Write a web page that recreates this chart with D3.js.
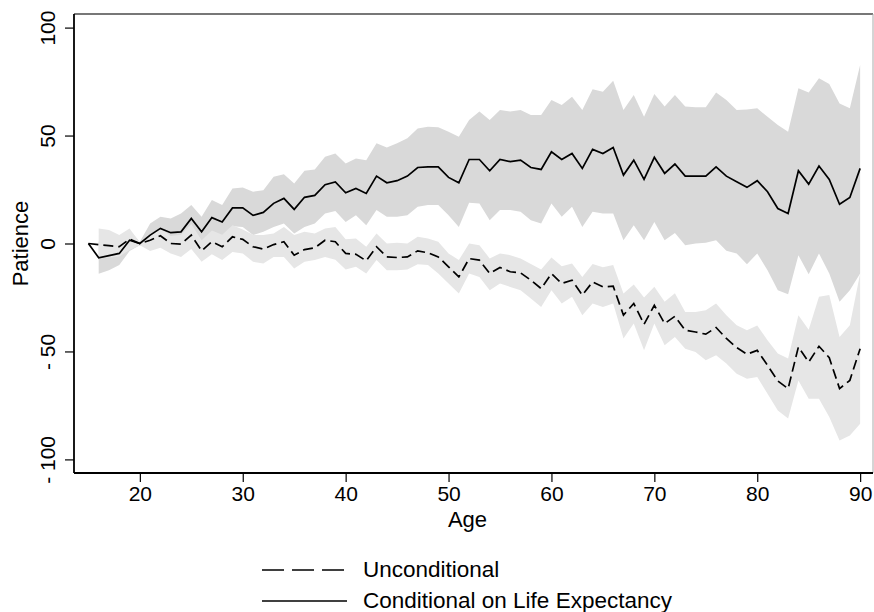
<!DOCTYPE html>
<html>
<head>
<meta charset="utf-8">
<script src="https://cdn.jsdelivr.net/npm/d3@7"></script>
<style>
	body { margin: 0; background: #fff; }
	svg text { font-family: "Liberation Sans", Arial, Helvetica, sans-serif; fill: #000; }
</style>
</head>
<body>
<div id="svg-container"></div>
<script>
// DATA
const ages = d3.range(15, 91);

// unconditional estimate (dashed) and its band
const uncond = [0, -0.5, -1, -1.5, 2, 0, 1.5, 3.6, 0, -0.3,
	3.9, -3.4, 0.8, -1.5, 3.1, 1.9, -1.5, -2.6, -0.5, 0.8,
	-5.4, -2.8, -2, 1.5, 0.8, -4.6, -5, -8, -1.5, -6.2,
	-6.5, -6.2, -3.4, -4.3, -6.2, -10.8, -15.5, -7, -7.7, -13.9,
	-11.1, -13.1, -13.6, -17, -20.9, -13.9, -18.5, -17, -23.9, -17.8,
	-20.1, -19.8, -33.2, -27.8, -37.4, -28.6, -37.1, -33.7, -40.2, -41,
	-42, -38.9, -44, -48.2, -51.3, -49.5, -56.4, -63.7, -67.2, -47.9,
	-54.9, -47.6, -52.9, -67.2, -63.4, -48.7];
const uncondLo = [null, -7, -6.5, -6, -3, -0.8, -3.5, -2, -4.6, -6.2,
	-2.5, -8.5, -5, -7.7, -3.9, -4.6, -8.5, -9.3, -6.2, -6.2,
	-11.6, -8.5, -7.7, -6.2, -7.5, -12, -10.8, -13.9, -7.7, -12.4,
	-12.4, -12, -9.6, -10, -13.9, -18.5, -23.2, -13.9, -15.5, -21.6,
	-18.5, -20.1, -21.6, -25.5, -29.4, -21.6, -27.8, -24.7, -33.2, -27.8,
	-29.4, -27.8, -44, -37.1, -49.5, -37.1, -47.1, -43.3, -48.7, -50.2,
	-54.1, -51.8, -55.6, -60.3, -62.6, -61.8, -69.6, -77.3, -81.1, -63.4,
	-71.9, -71.9, -80.4, -91.2, -88.9, -83.5];
const uncondHi = [null, 7, 6.2, 3.9, 7, 0.5, 4.5, 7, 3.5, 4,
	9, 1.5, 6, 4, 8.5, 6.5, 4, 3.9, 4.6, 7.7,
	3.9, 5.4, 4.6, 7, 7.7, 2, 2.3, -1.5, 4.6, 0,
	0.3, 0, 3.1, 2.3, 0.8, -4.6, -7.7, 0, -0.8, -6.9,
	-4.6, -5.4, -6.9, -9.5, -12, -6.5, -10.5, -9.3, -15.5, -9.5,
	-11, -10, -23.2, -19, -25, -20, -27, -23, -31.7, -31.7,
	-30.9, -27.8, -33.2, -37.9, -40.2, -38, -44.8, -51, -53.3, -33.2,
	-40, -24.7, -23.9, -43.3, -37.9, -13.9];

// conditional on life expectancy (solid) and its band
const cond = [0, -6.6, -5.6, -4.6, 1.5, 0, 3.9, 7, 5, 5.4,
	11.6, 5.4, 12, 10, 16.5, 16.5, 13, 14.4, 18.6, 20.9,
	15.8, 21.4, 22.3, 27.2, 28.5, 23.5, 25.5, 23.2, 31.2, 28.1,
	29.1, 31.2, 35.2, 35.5, 35.5, 30.6, 28.1, 38.9, 38.9, 33.7,
	38.9, 37.9, 38.6, 35.2, 34.3, 42.5, 38.9, 41.7, 34.8, 43.6,
	41.7, 44.5, 31.7, 38.6, 29.7, 39.9, 32.5, 36.8, 31.2, 31.2,
	31.2, 35.5, 31.2, 28.6, 26, 29.1, 24, 16.2, 13.9, 33.7,
	27.5, 35.9, 29.7, 18.2, 21.3, 34.8];
const condLo = [null, -14, -12.4, -10, -3.5, -0.8, -1.5, 1.5, -1.5, -3,
	5, -1.5, 4, 2.5, 8, 7.7, 3.9, 5.4, 7.7, 9.3,
	4.6, 7.7, 9.3, 13.9, 15, 10, 13.1, 8.5, 15.5, 12.4,
	12.4, 13.1, 17, 17.8, 17.8, 13.1, 7.7, 18.9, 18.5, 10.8,
	15.5, 15.5, 14.7, 10.8, 9.3, 18.5, 12.4, 17, 7.7, 14.7,
	13.9, 13.9, 1.5, 8.5, 1.5, 10, 1.5, 4.9, -0.8, 0,
	0.3, 1.5, -3.4, -4.6, -9.6, -4.6, -12.4, -21.6, -23.5, -5.4,
	-14.2, -4.6, -13.9, -27, -21.6, -13.9];
const condHi = [null, 0.8, 1.2, 1, 6, 0.8, 9.3, 12.4, 11.6, 13.9,
	17.8, 12.4, 20.1, 17.8, 25.5, 25.9, 24, 24.7, 30.9, 32.1,
	27.8, 33.7, 34.3, 40.2, 41.7, 37.1, 39.4, 38.6, 46.4, 44.5,
	46.4, 48.7, 53.3, 54.1, 53.8, 51.8, 49.5, 57.2, 61.1, 57.2,
	61.8, 61.1, 61.8, 59.5, 59.5, 66.5, 64.1, 68, 61.8, 71.4,
	70.3, 75.4, 61.8, 68.8, 58.7, 69.2, 63.4, 68.8, 63.4, 63.1,
	63.1, 69.9, 66.5, 61.8, 62.1, 62.6, 58.7, 54.9, 51.8, 71.9,
	69.9, 76.5, 73.9, 64.9, 62.6, 82.7];

// ticks and labels
const xTicks = [20, 30, 40, 50, 60, 70, 80, 90];
const yTicks = [-100, -50, 0, 50, 100];
const legendLabels = ["Unconditional", "Conditional on Life Expectancy"];


// CHART
function graphData() {
	const w = 874;
	const h = 612;
	const padLeft = 74;
	const padRight = 873;
	const padTop = 14;
	const padBottom = 473;

	const rows = ages.map((a, i) => ({
		age: a,
		u: uncond[i], uLo: uncondLo[i], uHi: uncondHi[i],
		c: cond[i], cLo: condLo[i], cHi: condHi[i]
	}));

	const xScale = d3.scaleLinear()
		.domain([13.6, 91.25])
		.range([padLeft, padRight]);
	const yScale = d3.scaleLinear()
		.domain([-106.3, 106.3])
		.range([padBottom, padTop]);

	const svg = d3.select("#svg-container")
		.append("svg")
		.attr("width", w)
		.attr("height", h);

	// bands
	const bandU = d3.area()
		.defined(d => d.uLo !== null)
		.x(d => xScale(d.age))
		.y0(d => yScale(d.uLo))
		.y1(d => yScale(d.uHi));
	const bandC = d3.area()
		.defined(d => d.cLo !== null)
		.x(d => xScale(d.age))
		.y0(d => yScale(d.cLo))
		.y1(d => yScale(d.cHi));
	svg.append("path")
		.datum(rows)
		.attr("d", bandC)
		.attr("fill", "#d9d9d9");
	svg.append("path")
		.datum(rows)
		.attr("d", bandU)
		.attr("fill", "#e6e6e6");

	// lines
	const lineU = d3.line().x(d => xScale(d.age)).y(d => yScale(d.u));
	const lineC = d3.line().x(d => xScale(d.age)).y(d => yScale(d.c));
	svg.append("path")
		.datum(rows)
		.attr("d", lineU)
		.attr("fill", "none")
		.attr("stroke", "#000")
		.attr("stroke-width", 1.7)
		.attr("stroke-dasharray", "10,5");
	svg.append("path")
		.datum(rows)
		.attr("d", lineC)
		.attr("fill", "none")
		.attr("stroke", "#000")
		.attr("stroke-width", 1.7);

	// frame (top and right)
	svg.append("line")
		.attr("x1", padLeft).attr("x2", padRight)
		.attr("y1", padTop).attr("y2", padTop)
		.attr("stroke", "#4a4a4a").attr("stroke-width", 1.6);
	svg.append("line")
		.attr("x1", padRight).attr("x2", padRight)
		.attr("y1", padTop).attr("y2", padBottom)
		.attr("stroke", "#aaa").attr("stroke-width", 1);

	// x-axis
	const xAxis = d3.axisBottom(xScale)
		.tickValues(xTicks)
		.tickSize(9)
		.tickPadding(4)
		.tickFormat(d => d);
	const gx = svg.append("g")
		.attr("transform", `translate(0, ${padBottom})`)
		.call(xAxis);
	gx.select(".domain")
		.attr("d", `M${padLeft},0H${padRight}`)
		.attr("stroke-width", 1.8);
	gx.selectAll(".tick line").attr("stroke-width", 1.2);
	gx.selectAll(".tick text")
		.attr("font-size", 21)
		.attr("font-family", "Liberation Sans, Arial, sans-serif");

	// y-axis
	const yAxis = d3.axisLeft(yScale)
		.tickValues(yTicks)
		.tickSize(9)
		.tickFormat(d => d < 0 ? "- " + Math.abs(d) : d);
	const gy = svg.append("g")
		.attr("transform", `translate(${padLeft}, 0)`)
		.call(yAxis);
	gy.select(".domain")
		.attr("d", `M0,${padTop}V${padBottom}`)
		.attr("stroke-width", 1.8);
	gy.selectAll(".tick line").attr("stroke-width", 1.2);
	gy.selectAll(".tick text")
		.attr("font-size", 21)
		.attr("font-family", "Liberation Sans, Arial, sans-serif")
		.attr("x", null)
		.attr("dy", null)
		.attr("text-anchor", "middle")
		.attr("transform", "translate(-19, 0) rotate(-90)");

	// labels
	svg.append("text")
		.text("Patience")
		.attr("font-size", 22)
		.attr("text-anchor", "middle")
		.attr("transform", `translate(28, ${yScale(0)}) rotate(-90)`);
	svg.append("text")
		.text("Age")
		.attr("font-size", 22)
		.attr("text-anchor", "middle")
		.attr("x", (padLeft + padRight) / 2 - 6)
		.attr("y", 527);

	// legend
	const legend = svg.append("g");
	legendLabels.forEach((lab, i) => {
		const ly = 570 + i * 31;
		legend.append("line")
			.attr("x1", 262).attr("x2", 347)
			.attr("y1", ly).attr("y2", ly)
			.attr("stroke", "#000")
			.attr("stroke-width", 1.7)
			.attr("stroke-dasharray", i === 0 ? "22,8" : null);
		legend.append("text")
			.text(lab)
			.attr("font-size", 22.5)
			.attr("x", 363)
			.attr("y", ly + 7);
	});
}

document.addEventListener('DOMContentLoaded', () => {
	graphData();
});
</script>
</body>
</html>
